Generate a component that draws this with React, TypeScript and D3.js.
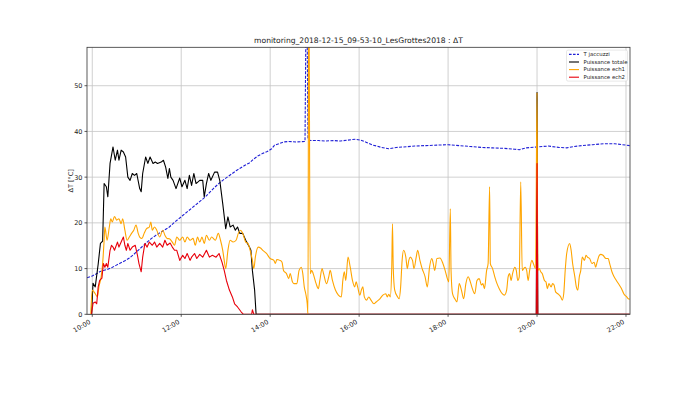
import React, { useRef, useEffect } from 'react';
import * as d3 from 'd3';

// T jacuzzi (blue dashed)
const jacuzziTimes = [
  "09:53", "09:57", "10:00", "10:05", "10:10", "10:15", "10:20", "10:26", "10:32", "10:38",
  "10:44", "10:50", "10:56", "11:02", "11:08", "11:14", "11:20", "11:26", "11:32", "11:38",
  "11:44", "11:50", "11:56", "12:02", "12:08", "12:14", "12:20", "12:26", "12:32", "12:38",
  "12:44", "12:50", "12:56", "13:02", "13:08", "13:14", "13:20", "13:26", "13:32", "13:38",
  "13:44", "13:50", "13:56", "14:02", "14:06", "14:12", "14:18", "14:25", "14:35", "14:47",
  "14:49", "14:51", "14:54", "15:05", "15:15", "15:25", "15:35", "15:45", "15:55", "16:02",
  "16:10", "16:18", "16:24", "16:30", "16:40", "16:50", "17:00", "17:15", "17:30", "17:45",
  "18:00", "18:15", "18:30", "18:45", "19:00", "19:15", "19:30", "19:36", "19:45", "20:00",
  "20:15", "20:30", "20:40", "20:50", "21:00", "21:15", "21:30", "21:45", "21:55", "22:05"
];
const jacuzziValues = [
  8.0, 8.2, 8.4, 8.8, 9.3, 9.6, 9.8, 10.2, 10.7, 11.2,
  11.7, 12.3, 13.1, 14.0, 14.9, 15.8, 16.6, 17.3, 17.9, 18.5,
  19.1, 20.0, 20.8, 21.6, 22.4, 23.2, 24.0, 24.8, 25.6, 26.6,
  27.6, 28.5, 29.3, 30.0, 30.7, 31.4, 32.0, 32.6, 33.1, 34.0,
  34.7, 35.2, 35.6, 36.2, 37.0, 37.3, 37.7, 37.8, 37.7, 37.8,
  80, 38.6, 38.0, 38.0, 37.9, 38.0, 37.9, 38.1, 38.3, 38.1,
  37.6, 37.0, 36.8, 36.5, 36.2, 36.5, 36.6, 36.8, 36.9, 37.0,
  37.1, 36.9, 36.7, 36.5, 36.4, 36.3, 36.1, 36.0, 36.4, 36.6,
  36.8, 36.5, 36.4, 36.7, 36.9, 37.1, 37.3, 37.3, 37.1, 36.9
];

// Puissance totale (black)
const totaleTimes = [
  "09:59", "10:01", "10:04", "10:08", "10:11", "10:14", "10:16", "10:19", "10:21", "10:24",
  "10:26", "10:28", "10:31", "10:34", "10:36", "10:39", "10:42", "10:45", "10:48", "10:51",
  "10:54", "10:57", "11:00", "11:04", "11:06", "11:08", "11:12", "11:15", "11:18", "11:22",
  "11:25", "11:28", "11:33", "11:36", "11:39", "11:42", "11:44", "11:46", "11:49", "11:53",
  "11:58", "12:01", "12:05", "12:08", "12:11", "12:14", "12:17", "12:20", "12:25", "12:29",
  "12:31", "12:34", "12:37", "12:40", "12:45", "12:49", "12:52", "12:56", "13:00", "13:03",
  "13:06", "13:10", "13:13", "13:16", "13:19", "13:23", "13:27", "13:32", "13:34", "13:36",
  "13:39", "13:41", "19:59", "20:00", "20:01", "22:05"
];
const totaleValues = [
  0, 6.8, 6.0, 11.0, 15.5, 16.0, 28.6, 27.9, 25.7, 33.0,
  34.8, 36.6, 33.7, 35.9, 33.7, 35.9, 35.5, 34.4, 30.0, 29.3,
  30.8, 30.4, 30.8, 27.5, 26.8, 30.8, 34.4, 33.0, 34.4, 33.0,
  33.3, 33.0, 33.3, 33.7, 32.2, 29.7, 31.9, 30.0, 29.3, 27.5,
  29.8, 27.9, 29.3, 27.5, 30.4, 28.2, 30.8, 28.6, 29.3, 29.3,
  25.7, 28.6, 30.8, 29.3, 31.1, 31.1, 29.3, 24.2, 18.7, 21.3,
  19.1, 19.5, 18.4, 19.1, 17.7, 17.7, 16.2, 14.7, 14.0, 9.6,
  5.3, 0, 0, 48.5, 0, 0
];

// Puissance ech1 (orange)
const ech1Times = [
  "09:58", "10:00", "10:04", "10:07", "10:09", "10:12", "10:14", "10:16", "10:17", "10:20",
  "10:23", "10:25", "10:27", "10:30", "10:33", "10:36", "10:39", "10:41", "10:44", "10:47",
  "10:50", "10:53", "10:56", "10:59", "11:02", "11:04", "11:07", "11:10", "11:13", "11:17",
  "11:19", "11:21", "11:24", "11:27", "11:31", "11:35", "11:38", "11:41", "11:44", "11:48",
  "11:51", "11:54", "11:58", "12:02", "12:05", "12:08", "12:12", "12:16", "12:19", "12:22",
  "12:25", "12:28", "12:31", "12:34", "12:38", "12:41", "12:46", "12:50", "12:53", "12:56",
  "12:58", "13:00", "13:03", "13:06", "13:10", "13:14", "13:17", "13:20", "13:23", "13:27",
  "13:30", "13:33", "13:36", "13:38", "13:40", "13:44", "13:47", "13:50", "13:55", "14:00",
  "14:05", "14:07", "14:09", "14:13", "14:16", "14:18", "14:22", "14:25", "14:27", "14:30",
  "14:32", "14:36", "14:39", "14:42", "14:44", "14:46", "14:48", "14:50", "14:51", "14:52",
  "14:54", "14:56", "14:58", "15:02", "15:05", "15:07", "15:10", "15:12", "15:16", "15:19",
  "15:21", "15:24", "15:28", "15:32", "15:36", "15:38", "15:40", "15:42", "15:45", "15:48",
  "15:51", "15:54", "15:56", "15:58", "16:01", "16:03", "16:05", "16:07", "16:10", "16:13",
  "16:16", "16:20", "16:23", "16:28", "16:32", "16:36", "16:38", "16:40", "16:42", "16:44",
  "16:45", "16:46", "16:48", "16:52", "16:54", "16:56", "16:58", "17:00", "17:03", "17:05",
  "17:07", "17:09", "17:12", "17:14", "17:17", "17:19", "17:22", "17:25", "17:29", "17:32",
  "17:35", "17:38", "17:40", "17:42", "17:45", "17:49", "17:53", "17:56", "17:59", "18:01",
  "18:03", "18:04", "18:06", "18:09", "18:12", "18:15", "18:18", "18:21", "18:24", "18:27",
  "18:30", "18:32", "18:36", "18:39", "18:42", "18:45", "18:47", "18:49", "18:52", "18:54",
  "18:56", "18:57", "19:00", "19:03", "19:06", "19:09", "19:13", "19:16", "19:19", "19:21",
  "19:23", "19:25", "19:27", "19:30", "19:32", "19:34", "19:36", "19:38", "19:40", "19:42",
  "19:44", "19:46", "19:48", "19:50", "19:53", "19:55", "19:58", "20:00", "20:01", "20:03",
  "20:05", "20:07", "20:10", "20:12", "20:14", "20:16", "20:19", "20:21", "20:23", "20:25",
  "20:28", "20:32", "20:34", "20:36", "20:38", "20:40", "20:44", "20:46", "20:48", "20:51",
  "20:53", "20:55", "20:57", "20:59", "21:01", "21:04", "21:06", "21:08", "21:11", "21:14",
  "21:17", "21:19", "21:21", "21:24", "21:26", "21:29", "21:33", "21:36", "21:38", "21:41",
  "21:44", "21:47", "21:51", "21:54", "21:57", "22:01", "22:03", "22:05"
];
const ech1Values = [
  0, 5.3, 4.5, 3.8, 6.0, 8.2, 11.1, 16.2, 19.1, 16.2,
  19.1, 20.9, 20.2, 21.4, 20.6, 20.9, 19.8, 20.9, 18.4, 16.2,
  16.9, 17.7, 18.4, 19.5, 17.7, 16.9, 16.6, 17.7, 18.7, 19.1,
  20.2, 18.4, 19.1, 18.4, 16.9, 18.4, 17.3, 16.6, 16.5, 15.8,
  15.1, 16.9, 16.2, 16.9, 15.8, 16.9, 16.2, 16.6, 15.1, 16.9,
  15.8, 16.9, 15.5, 17.3, 16.2, 16.9, 16.2, 17.7, 16.2, 14.0,
  11.8, 10.0, 14.0, 16.2, 15.8, 16.2, 17.7, 18.4, 17.7, 15.8,
  15.5, 14.0, 11.8, 10.0, 12.5, 14.7, 14.5, 14.0, 13.3, 12.2,
  11.8, 11.1, 12.0, 11.8, 11.4, 9.6, 8.9, 7.8, 8.9, 7.1,
  6.7, 6.7, 9.6, 10.3, 8.9, 6.0, 4.5, 2.3, 0, 80,
  8.9, 9.6, 8.9, 6.7, 5.6, 7.4, 10.0, 8.9, 6.7, 8.2,
  9.6, 7.4, 5.3, 4.2, 3.8, 7.4, 9.3, 7.4, 12.5, 10.3,
  7.4, 6.0, 7.1, 6.0, 4.2, 5.3, 6.0, 3.8, 3.1, 3.8,
  3.1, 2.3, 2.7, 3.4, 4.2, 4.5, 3.8, 4.4, 3.8, 10.3,
  19.8, 10.3, 5.3, 3.8, 3.4, 6.0, 11.8, 14.0, 12.5, 10.0,
  11.8, 12.5, 11.8, 10.0, 12.5, 14.0, 11.8, 10.0, 8.2, 6.0,
  10.3, 12.2, 11.1, 9.6, 12.2, 12.3, 11.1, 9.6, 7.8, 7.1,
  23.1, 9.6, 4.5, 3.4, 2.7, 6.7, 5.3, 3.4, 6.7, 8.2,
  7.1, 6.0, 4.5, 7.4, 7.8, 6.4, 6.7, 5.6, 9.6, 11.1,
  27.9, 11.1, 10.0, 8.2, 6.7, 5.6, 4.5, 4.2, 5.3, 8.2,
  8.9, 7.4, 8.9, 10.3, 9.6, 7.4, 8.2, 29.0, 9.6, 10.0,
  10.3, 9.6, 7.4, 9.6, 11.8, 11.1, 10.0, 48.5, 9.6, 10.0,
  9.3, 8.9, 7.4, 7.1, 5.6, 6.7, 6.0, 6.7, 6.4, 4.9,
  4.5, 3.8, 3.1, 4.5, 9.6, 13.3, 15.5, 14.0, 11.1, 8.2,
  6.0, 5.3, 8.2, 9.6, 12.5, 11.8, 12.9, 12.5, 12.2, 11.1,
  11.4, 10.3, 11.4, 12.9, 13.1, 12.9, 12.2, 12.2, 11.1, 9.3,
  8.2, 7.4, 6.4, 5.6, 4.5, 3.8, 3.4, 3.3
];

// Puissance ech2 (red)
const ech2Times = [
  "09:59", "10:01", "10:04", "10:06", "10:08", "10:10", "10:13", "10:15", "10:17", "10:19",
  "10:21", "10:24", "10:26", "10:28", "10:30", "10:34", "10:36", "10:40", "10:42", "10:44",
  "10:46", "10:48", "10:51", "10:54", "10:58", "11:01", "11:03", "11:06", "11:08", "11:11",
  "11:14", "11:17", "11:21", "11:24", "11:27", "11:31", "11:35", "11:38", "11:41", "11:45",
  "11:48", "11:51", "11:54", "11:58", "12:02", "12:05", "12:08", "12:12", "12:14", "12:18",
  "12:21", "12:25", "12:29", "12:34", "12:38", "12:42", "12:47", "12:51", "12:55", "12:58",
  "13:01", "13:05", "13:09", "13:12", "13:16", "13:21", "13:24", "13:35", "13:36", "13:38",
  "19:59", "20:00", "20:01", "22:05"
];
const ech2Values = [
  0, 2.4, 2.7, 2.3, 6.0, 7.4, 7.9, 11.1, 10.3, 11.1,
  10.3, 14.0, 15.1, 14.7, 14.0, 15.8, 14.7, 16.2, 16.9, 15.1,
  14.0, 15.5, 14.0, 14.7, 15.1, 12.9, 11.1, 9.3, 12.5, 15.5,
  14.7, 15.8, 15.1, 15.8, 14.7, 15.5, 14.7, 16.2, 15.1, 15.6,
  14.7, 14.0, 14.0, 11.8, 12.9, 12.2, 13.3, 11.8, 12.5, 13.3,
  12.2, 13.1, 12.5, 14.0, 12.5, 12.9, 12.5, 13.3, 11.4, 9.6,
  7.4, 5.3, 3.8, 2.3, 1.6, 0.5, 0, 0, 1.0, 0,
  0, 33.0, 0, 0
];

const xTickLabels = ["10:00", "12:00", "14:00", "16:00", "18:00", "20:00", "22:00"];
const yTicks = [0, 10, 20, 30, 40, 50];

const series = [
  { name: "T jaccuzzi", times: jacuzziTimes, values: jacuzziValues, color: "#1f1fd6", dash: "3,1.4", smooth: false },
  { name: "Puissance totale", times: totaleTimes, values: totaleValues, color: "#000000", dash: null, smooth: false },
  { name: "Puissance ech1", times: ech1Times, values: ech1Values, color: "#ffa500", dash: null, smooth: true },
  { name: "Puissance ech2", times: ech2Times, values: ech2Values, color: "#e8000b", dash: null, smooth: false },
];

const WIDTH = 700;
const HEIGHT = 393;

export default function App() {
  const svgRef = useRef<SVGSVGElement | null>(null);

  useEffect(() => {
    const svg = d3.select(svgRef.current);
    svg.selectAll("*").remove();

    const margin = { top: 47.3, right: 70, bottom: 78.7, left: 87 };
    const innerWidth = WIDTH - margin.left - margin.right;
    const innerHeight = HEIGHT - margin.top - margin.bottom;
    const font = "DejaVu Sans, sans-serif";

    const parseHM = d3.timeParse("%H:%M");
    const parseHMS = d3.timeParse("%H:%M:%S");

    const xScale = d3.scaleTime()
      .domain([parseHMS("09:52:54") as Date, parseHMS("22:05:24") as Date])
      .range([0, innerWidth]);

    const yScale = d3.scaleLinear()
      .domain([0, 58.4])
      .range([innerHeight, 0]);

    svg.append("rect")
      .attr("width", WIDTH)
      .attr("height", HEIGHT)
      .attr("fill", "#ffffff");

    const g = svg.append("g")
      .attr("transform", `translate(${margin.left},${margin.top})`);

    g.append("clipPath")
      .attr("id", "plot-clip")
      .append("rect")
      .attr("width", innerWidth)
      .attr("height", innerHeight);

    // grid
    const xTickDates = xTickLabels.map(t => parseHM(t) as Date);
    g.selectAll(".grid-x")
      .data(xTickDates)
      .enter()
      .append("line")
      .attr("x1", d => xScale(d))
      .attr("x2", d => xScale(d))
      .attr("y1", 0)
      .attr("y2", innerHeight)
      .attr("stroke", "#c4c4c4")
      .attr("stroke-width", 0.8);

    g.selectAll(".grid-y")
      .data(yTicks)
      .enter()
      .append("line")
      .attr("x1", 0)
      .attr("x2", innerWidth)
      .attr("y1", d => yScale(d))
      .attr("y2", d => yScale(d))
      .attr("stroke", "#c4c4c4")
      .attr("stroke-width", 0.8);

    // lines
    const plot = g.append("g").attr("clip-path", "url(#plot-clip)");
    series.forEach(s => {
      const pts = s.times.map((t, i) => [parseHM(t) as Date, s.values[i]] as [Date, number]);
      const line = d3.line<[Date, number]>()
        .x(d => xScale(d[0]))
        .y(d => yScale(d[1]))
        .curve(s.smooth ? d3.curveMonotoneX : d3.curveLinear);
      const path = plot.append("path")
        .datum(pts)
        .attr("d", line)
        .attr("fill", "none")
        .attr("stroke", s.color)
        .attr("stroke-width", 1.1)
        .attr("stroke-linejoin", "round");
      if (s.dash) path.attr("stroke-dasharray", s.dash);
    });

    // spines
    g.append("rect")
      .attr("width", innerWidth)
      .attr("height", innerHeight)
      .attr("fill", "none")
      .attr("stroke", "#333")
      .attr("stroke-width", 0.8);

    // x axis ticks
    const xAxis = g.append("g").attr("transform", `translate(0,${innerHeight})`);
    xTickDates.forEach((d, i) => {
      const x = xScale(d);
      xAxis.append("line")
        .attr("x1", x).attr("x2", x)
        .attr("y1", 0).attr("y2", 2.5)
        .attr("stroke", "#333").attr("stroke-width", 0.8);
      xAxis.append("text")
        .attr("transform", `translate(${x - 1.2},${9}) rotate(-30)`)
        .attr("text-anchor", "end")
        .style("font-family", font)
        .style("font-size", "6.5px")
        .style("fill", "#222")
        .text(xTickLabels[i]);
    });

    // y axis ticks
    yTicks.forEach(v => {
      const y = yScale(v);
      g.append("line")
        .attr("x1", -2.5).attr("x2", 0)
        .attr("y1", y).attr("y2", y)
        .attr("stroke", "#333").attr("stroke-width", 0.8);
      g.append("text")
        .attr("x", -4.5)
        .attr("y", y + 2.4)
        .attr("text-anchor", "end")
        .style("font-family", font)
        .style("font-size", "6.5px")
        .style("fill", "#222")
        .text(v);
    });

    // y label
    g.append("text")
      .attr("transform", `translate(-14.5,${innerHeight / 2}) rotate(-90)`)
      .attr("text-anchor", "middle")
      .style("font-family", font)
      .style("font-size", "6.5px")
      .style("fill", "#222")
      .text("ΔT [°C]");

    // title
    g.append("text")
      .attr("x", innerWidth / 2)
      .attr("y", -4)
      .attr("text-anchor", "middle")
      .style("font-family", font)
      .style("font-size", "7.6px")
      .style("fill", "#222")
      .text("monitoring_2018-12-15_09-53-10_LesGrottes2018 : ΔT");

    // legend
    const legend = g.append("g")
      .attr("transform", `translate(${innerWidth - 63.5}, 2.8)`);
    legend.append("rect")
      .attr("width", 61)
      .attr("height", 31)
      .attr("rx", 1.5)
      .attr("fill", "#ffffff")
      .attr("fill-opacity", 0.8)
      .attr("stroke", "#d6d6d6")
      .attr("stroke-width", 0.6);
    series.forEach((s, i) => {
      const y = 4.3 + i * 7.6;
      const l = legend.append("line")
        .attr("x1", 2.5).attr("x2", 12.5)
        .attr("y1", y).attr("y2", y)
        .attr("stroke", s.color)
        .attr("stroke-width", 1.1);
      if (s.dash) l.attr("stroke-dasharray", "2.6,1.4");
      legend.append("text")
        .attr("x", 17)
        .attr("y", y + 1.9)
        .style("font-family", font)
        .style("font-size", "5.4px")
        .style("fill", "#222")
        .text(s.name);
    });
  }, []);

  return (
    <div style={{ position: "absolute", left: 0, top: 0 }}>
      <svg ref={svgRef} width={WIDTH} height={HEIGHT} style={{ display: "block" }}></svg>
    </div>
  );
}
